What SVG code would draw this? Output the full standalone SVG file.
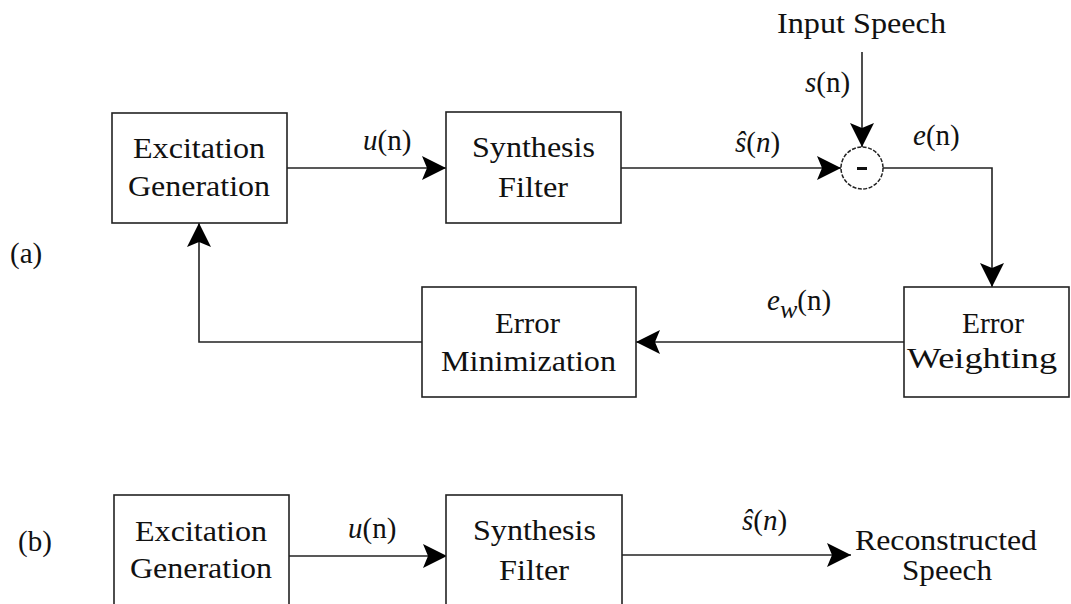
<svg xmlns="http://www.w3.org/2000/svg" width="1071" height="604" viewBox="0 0 1071 604">
<style>
.t{font-family:'Liberation Serif', 'Times New Roman', Times, serif;font-size:29px;fill:#111;}
.c{text-anchor:middle;}
.i{font-style:italic;}
.box{fill:#fff;stroke:#222;stroke-width:1.6;}
.ln{fill:none;stroke:#222;stroke-width:1.6;}
</style>
<defs>
<marker id="ah" markerUnits="userSpaceOnUse" markerWidth="26" markerHeight="26" refX="24" refY="12" orient="auto">
<path d="M0,0 L24,12 L0,24 L5,12 Z" fill="#000"/>
</marker>
</defs>
<g id="connectors">
<path class="ln" d="M287,168 H446" marker-end="url(#ah)"/>
<path class="ln" d="M621,168 H841" marker-end="url(#ah)"/>
<path class="ln" d="M862,52 V147" marker-end="url(#ah)"/>
<path class="ln" d="M883,168 H992 V287" marker-end="url(#ah)"/>
<path class="ln" d="M904,342 H636" marker-end="url(#ah)"/>
<path class="ln" d="M422,342 H199 V223" marker-end="url(#ah)"/>
<path class="ln" d="M289,556 H447" marker-end="url(#ah)"/>
<path class="ln" d="M621,555 H851" marker-end="url(#ah)"/>
</g>
<g id="labels" class="t" font-family="Liberation Serif">
<text x="10" y="263">(a)</text>
<text x="18" y="551">(b)</text>
<text x="363" y="150"><tspan class="i">u</tspan>(n)</text>
<text x="735" y="152"><tspan class="i">ŝ</tspan>(<tspan class="i">n</tspan>)</text>
<text x="805" y="92"><tspan class="i">s</tspan>(n)</text>
<text x="913" y="145"><tspan class="i">e</tspan>(n)</text>
<text x="767" y="310"><tspan class="i">e</tspan><tspan class="i" font-size="26" dy="8">w</tspan><tspan dy="-8">(n)</tspan></text>
<text x="348" y="538"><tspan class="i">u</tspan>(n)</text>
<text x="742" y="530"><tspan class="i">ŝ</tspan>(<tspan class="i">n</tspan>)</text>
<text x="777" y="33" textLength="169" lengthAdjust="spacingAndGlyphs">Input Speech</text>
<text x="855" y="550" textLength="182" lengthAdjust="spacingAndGlyphs">Reconstructed</text>
<text x="902" y="580" textLength="90" lengthAdjust="spacingAndGlyphs">Speech</text>
</g>
<g id="excitation-a" class="t" font-family="Liberation Serif">
<rect class="box" x="112" y="113" width="175" height="110"/>
<text x="133" y="158" textLength="132" lengthAdjust="spacingAndGlyphs">Excitation</text>
<text x="128" y="196" textLength="142" lengthAdjust="spacingAndGlyphs">Generation</text>
</g>
<g id="synthesis-a" class="t" font-family="Liberation Serif">
<rect class="box" x="446" y="112" width="175" height="111"/>
<text x="472" y="157" textLength="123" lengthAdjust="spacingAndGlyphs">Synthesis</text>
<text x="498" y="197" textLength="70" lengthAdjust="spacingAndGlyphs">Filter</text>
</g>
<g id="sum">
<circle cx="862" cy="168" r="21" fill="#fff" stroke="#222" stroke-width="1.5" stroke-dasharray="4,1.5"/>
<rect x="857" y="167" width="10" height="3" fill="#111"/>
</g>
<g id="error-weighting" class="t" font-family="Liberation Serif">
<rect class="box" x="904" y="287" width="165" height="110"/>
<text x="962" y="333" textLength="62" lengthAdjust="spacingAndGlyphs">Error</text>
<text x="907" y="368" textLength="150" lengthAdjust="spacingAndGlyphs">Weighting</text>
</g>
<g id="error-minimization" class="t" font-family="Liberation Serif">
<rect class="box" x="422" y="287" width="214" height="110"/>
<text x="495" y="333" textLength="65" lengthAdjust="spacingAndGlyphs">Error</text>
<text x="441" y="371" textLength="175" lengthAdjust="spacingAndGlyphs">Minimization</text>
</g>
<g id="excitation-b" class="t" font-family="Liberation Serif">
<rect class="box" x="114" y="495" width="175" height="120"/>
<text x="135" y="541" textLength="132" lengthAdjust="spacingAndGlyphs">Excitation</text>
<text x="130" y="578" textLength="142" lengthAdjust="spacingAndGlyphs">Generation</text>
</g>
<g id="synthesis-b" class="t" font-family="Liberation Serif">
<rect class="box" x="446" y="495" width="176" height="120"/>
<text x="473" y="540" textLength="123" lengthAdjust="spacingAndGlyphs">Synthesis</text>
<text x="499" y="580" textLength="70" lengthAdjust="spacingAndGlyphs">Filter</text>
</g>
</svg>
